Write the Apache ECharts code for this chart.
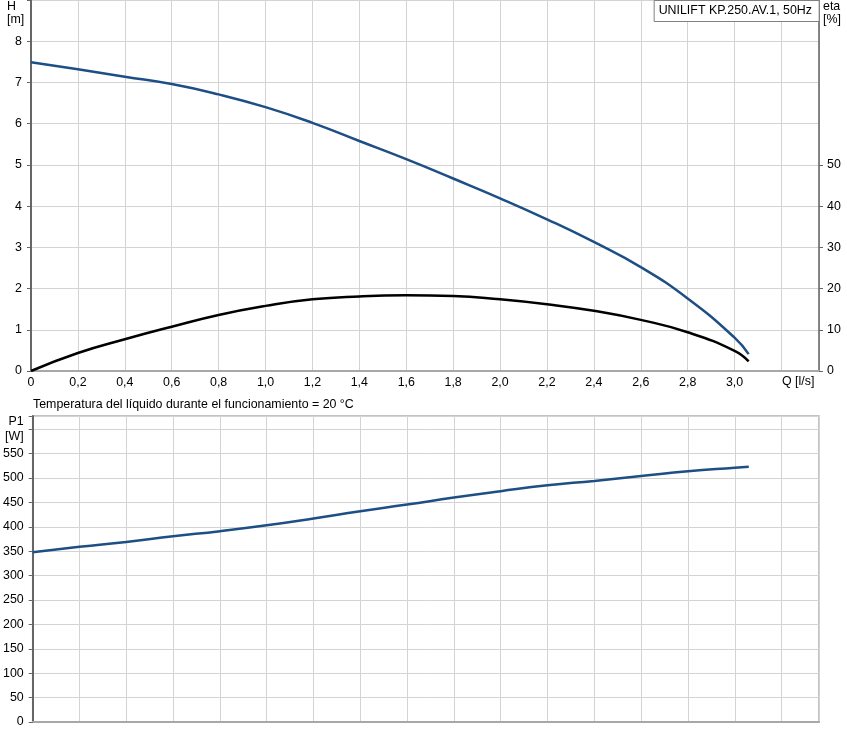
<!DOCTYPE html>
<html>
<head>
<meta charset="utf-8">
<script src="https://cdn.jsdelivr.net/npm/echarts@6/dist/echarts.min.js"></script>
<style>
  html, body { margin: 0; padding: 0; background: #fff; }
  #main { width: 847px; height: 742px; }
</style>
</head>
<body>
<div id="main"></div>
<script>
// caudal Q [l/s]
var flow = [0, 0.2, 0.4, 0.6, 0.8, 1.0, 1.2, 1.4, 1.6, 1.8, 2.0, 2.2, 2.4, 2.6, 2.8, 3.0, 3.06];
// altura H [m]
var head = [7.49, 7.32, 7.14, 6.96, 6.71, 6.40, 6.02, 5.58, 5.14, 4.67, 4.19, 3.68, 3.13, 2.52, 1.76, 0.81, 0.41];
// rendimiento eta [%]
var eta = [0, 4.36, 7.7, 10.75, 13.6, 15.8, 17.4, 18.1, 18.35, 18.2, 17.4, 16.2, 14.6, 12.4, 9.4, 4.9, 2.35];
// potencia P1 [W]
var power = [348, 359, 369, 380.5, 391, 403, 417, 432, 445.5, 460, 473, 485, 494, 504, 514, 521, 523];

var etaTicks = [0, 10, 20, 30, 40, 50];
var pumpName = 'UNILIFT KP.250.AV.1, 50Hz';
var tempNote = 'Temperatura del líquido durante el funcionamiento = 20 °C';

var font = "'Liberation Sans', Arial, sans-serif";
var fontSize = 12.4;
var blue = '#1d4f85';
var gridColor = '#d3d3d3';

function pairs(ys) {
  return flow.map(function (q, i) {
    return [q, ys[i]];
  });
}

// solo múltiplos del intervalo, con coma decimal
function onStep(v, step) {
  var r = v / step;
  return Math.abs(r - Math.round(r)) < 1e-6;
}

function flowLabel(v) {
  if (!onStep(v, 0.2) || Math.abs(v - 3.2) < 1e-6) return '';
  if (v === 0) return '0';
  return v.toFixed(1).replace('.', ',');
}

function xAxisFor(gridIndex, labels) {
  return {
    type: 'value',
    gridIndex: gridIndex,
    min: 0,
    max: 3.36,
    interval: 0.2,
    axisLine: { show: true, onZero: false, lineStyle: { color: '#a8a8a8', width: 2 } },
    axisTick: { show: false },
    axisLabel: {
      show: labels,
      margin: 6,
      color: '#000',
      fontFamily: font,
      fontSize: fontSize,
      formatter: flowLabel
    },
    splitLine: { show: true, lineStyle: { color: gridColor, width: 1 } }
  };
}

function curve(name, xi, yi, color, ys) {
  return {
    name: name,
    type: 'line',
    xAxisIndex: xi,
    yAxisIndex: yi,
    smooth: 0.5,
    showSymbol: false,
    lineStyle: { color: color, width: 2.5 },
    data: pairs(ys)
  };
}

var chart = echarts.init(document.getElementById('main'));

var option = {
  animation: false,
  title: {
    text: pumpName,
    right: 28,
    top: 0,
    padding: [5, 7, 5, 5],
    borderColor: '#808080',
    borderWidth: 1,
    backgroundColor: '#fff',
    textStyle: { color: '#000', fontFamily: font, fontSize: fontSize, fontWeight: 'normal' }
  },
  grid: [
    { left: 31, top: 0, width: 788, height: 371, show: true, borderColor: '#d3d3d3', borderWidth: 1 },
    { left: 31, top: 416, width: 788, height: 306, show: true, borderColor: '#b0b0b0', borderWidth: 1.5 }
  ],
  xAxis: [xAxisFor(0, true), xAxisFor(1, false)],
  yAxis: [
    {
      type: 'value',
      gridIndex: 0,
      min: 0,
      max: 9,
      interval: 1,
      axisLine: { show: true, lineStyle: { color: '#666', width: 2 } },
      axisTick: { show: true, length: 4, lineStyle: { color: '#666' } },
      axisLabel: {
        margin: 9,
        color: '#000',
        fontFamily: font,
        fontSize: fontSize,
        formatter: function (v) { return v > 8 ? '' : String(v); }
      },
      splitLine: { show: true, lineStyle: { color: gridColor, width: 1 } }
    },
    {
      type: 'value',
      gridIndex: 0,
      position: 'right',
      min: 0,
      max: 90,
      interval: 10,
      axisLine: { show: true, lineStyle: { color: '#666', width: 1.5 } },
      axisTick: { show: true, length: 4, customValues: etaTicks, lineStyle: { color: '#666' } },
      axisLabel: {
        margin: 8,
        color: '#000',
        fontFamily: font,
        fontSize: fontSize,
        customValues: etaTicks
      },
      splitLine: { show: false }
    },
    {
      type: 'value',
      gridIndex: 1,
      min: 0,
      max: 627,
      interval: 50,
      axisLine: { show: true, lineStyle: { color: '#666', width: 2 } },
      axisTick: { show: true, length: 4, lineStyle: { color: '#666' } },
      axisLabel: {
        margin: 9,
        color: '#000',
        fontFamily: font,
        fontSize: fontSize,
        lineHeight: 15,
        formatter: function (v) {
          if (!onStep(v, 50)) return '';
          if (v === 600) return 'P1\n[W]';
          return String(v);
        }
      },
      splitLine: { show: true, lineStyle: { color: gridColor, width: 1 } }
    }
  ],
  graphic: [
    {
      type: 'text', left: 7, top: 0,
      style: { text: 'H\n[m]', fill: '#000', font: fontSize + 'px ' + font, lineHeight: 13, align: 'center', width: 16 }
    },
    {
      type: 'text', left: 823, top: 0,
      style: { text: 'eta\n[%]', fill: '#000', font: fontSize + 'px ' + font, lineHeight: 13 }
    },
    {
      type: 'text', left: 782, top: 376,
      style: { text: 'Q [l/s]', fill: '#000', font: fontSize + 'px ' + font }
    },
    {
      type: 'text', left: 33, top: 399,
      style: { text: tempNote, fill: '#000', font: fontSize + 'px ' + font }
    }
  ],
  series: [
    curve('H', 0, 0, blue, head),
    curve('eta', 0, 1, '#000', eta),
    curve('P1', 1, 2, blue, power)
  ]
};

chart.setOption(option);
</script>
</body>
</html>
